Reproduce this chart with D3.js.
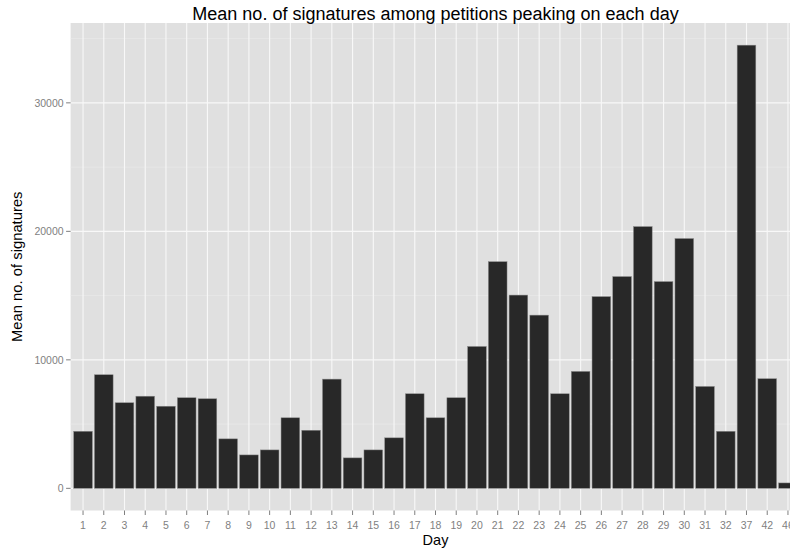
<!DOCTYPE html>
<html>
<head>
<meta charset="utf-8">
<script src="https://cdn.jsdelivr.net/npm/d3@7"></script>
<style>
  html, body { margin: 0; padding: 0; background: #ffffff; }
  svg { display: block; font-family: "Liberation Sans", Arial, Helvetica, sans-serif; }
</style>
</head>
<body>
<svg id="chart" width="790" height="550"></svg>
<script>
const days = ["1","2","3","4","5","6","7","8","9","10","11","12","13","14","15","16","17","18","19","20","21","22","23","24","25","26","27","28","29","30","31","32","37","42","46"];
const meanSignatures = [4440, 8840, 6660, 7170, 6390, 7050, 6970, 3850, 2600, 2990, 5490, 4520, 8500, 2370, 2990, 3930, 7360, 5490, 7050, 11040, 17640, 15040, 13480, 7360, 9100, 14920, 16480, 20370, 16090, 19440, 7930, 4440, 34490, 8530, 420];
const yTicks = [0, 10000, 20000, 30000];
const yMinorTicks = [5000, 15000, 25000, 35000];

const titleText = "Mean no. of signatures among petitions peaking on each day";
const xTitle = "Day";
const yTitle = "Mean no. of signatures";

const svg = d3.select("#chart");
const panel = { left: 70.6, right: 800.4, top: 23, bottom: 510.5 };

const x = d3.scaleBand()
  .domain(days)
  .range([panel.left, panel.right])
  .paddingInner(0.1)
  .paddingOuter(0.15);

const maxV = d3.max(meanSignatures);
const y = d3.scaleLinear()
  .domain([-0.05 * maxV, 1.05 * maxV])
  .range([panel.bottom, panel.top]);

const cx = d => x(d) + x.bandwidth() / 2;

// panel background
svg.append("rect")
  .attr("x", panel.left).attr("y", panel.top)
  .attr("width", panel.right - panel.left)
  .attr("height", panel.bottom - panel.top)
  .attr("fill", "#e0e0e0");

// minor horizontal grid
svg.append("g").selectAll("line").data(yMinorTicks.filter(v => y(v) >= panel.top)).join("line")
  .attr("x1", panel.left).attr("x2", panel.right)
  .attr("y1", d => y(d)).attr("y2", d => y(d))
  .attr("stroke", "#ebebeb").attr("stroke-width", 0.6);

// major horizontal grid
svg.append("g").selectAll("line").data(yTicks).join("line")
  .attr("x1", panel.left).attr("x2", panel.right)
  .attr("y1", d => y(d)).attr("y2", d => y(d))
  .attr("stroke", "#f8f8f8").attr("stroke-width", 1.1);

// vertical grid
svg.append("g").selectAll("line").data(days).join("line")
  .attr("x1", d => cx(d)).attr("x2", d => cx(d))
  .attr("y1", panel.top).attr("y2", panel.bottom)
  .attr("stroke", "#f8f8f8").attr("stroke-width", 1.1);

// bars
svg.append("g").selectAll("rect").data(days).join("rect")
  .attr("x", d => x(d))
  .attr("width", x.bandwidth())
  .attr("y", (d, i) => y(meanSignatures[i]))
  .attr("height", (d, i) => y(0) - y(meanSignatures[i]))
  .attr("fill", "#282828")
  .attr("stroke", "#8a8a8a")
  .attr("stroke-width", 0.5);

// y axis ticks and labels
const yAxis = svg.append("g");
yAxis.selectAll("line").data(yTicks).join("line")
  .attr("x1", panel.left - 4.5).attr("x2", panel.left)
  .attr("y1", d => y(d)).attr("y2", d => y(d))
  .attr("stroke", "#7f7f7f").attr("stroke-width", 1);
yAxis.selectAll("text").data(yTicks).join("text")
  .attr("x", panel.left - 7)
  .attr("y", d => y(d))
  .attr("dy", "0.35em")
  .attr("text-anchor", "end")
  .attr("font-size", "10.5px")
  .attr("fill", "#7f7f7f")
  .text(d => d);

// x axis ticks and labels
const xAxis = svg.append("g");
xAxis.selectAll("line").data(days).join("line")
  .attr("x1", d => cx(d)).attr("x2", d => cx(d))
  .attr("y1", panel.bottom).attr("y2", panel.bottom + 4.5)
  .attr("stroke", "#7f7f7f").attr("stroke-width", 1);
xAxis.selectAll("text").data(days).join("text")
  .attr("x", d => cx(d))
  .attr("y", panel.bottom + 15)
  .attr("dy", "0.35em")
  .attr("text-anchor", "middle")
  .attr("font-size", "10.5px")
  .attr("fill", "#7f7f7f")
  .text(d => d);

// titles
const midX = (panel.left + panel.right) / 2;
svg.append("text")
  .attr("x", midX).attr("y", 20)
  .attr("text-anchor", "middle")
  .attr("font-size", "18px")
  .attr("fill", "#000")
  .text(titleText);

svg.append("text")
  .attr("x", midX).attr("y", 545)
  .attr("text-anchor", "middle")
  .attr("font-size", "14.5px")
  .attr("fill", "#000")
  .text(xTitle);

svg.append("text")
  .attr("transform", `translate(22,${(panel.top + panel.bottom) / 2}) rotate(-90)`)
  .attr("text-anchor", "middle")
  .attr("font-size", "14.8px")
  .attr("fill", "#000")
  .text(yTitle);
</script>
</body>
</html>
